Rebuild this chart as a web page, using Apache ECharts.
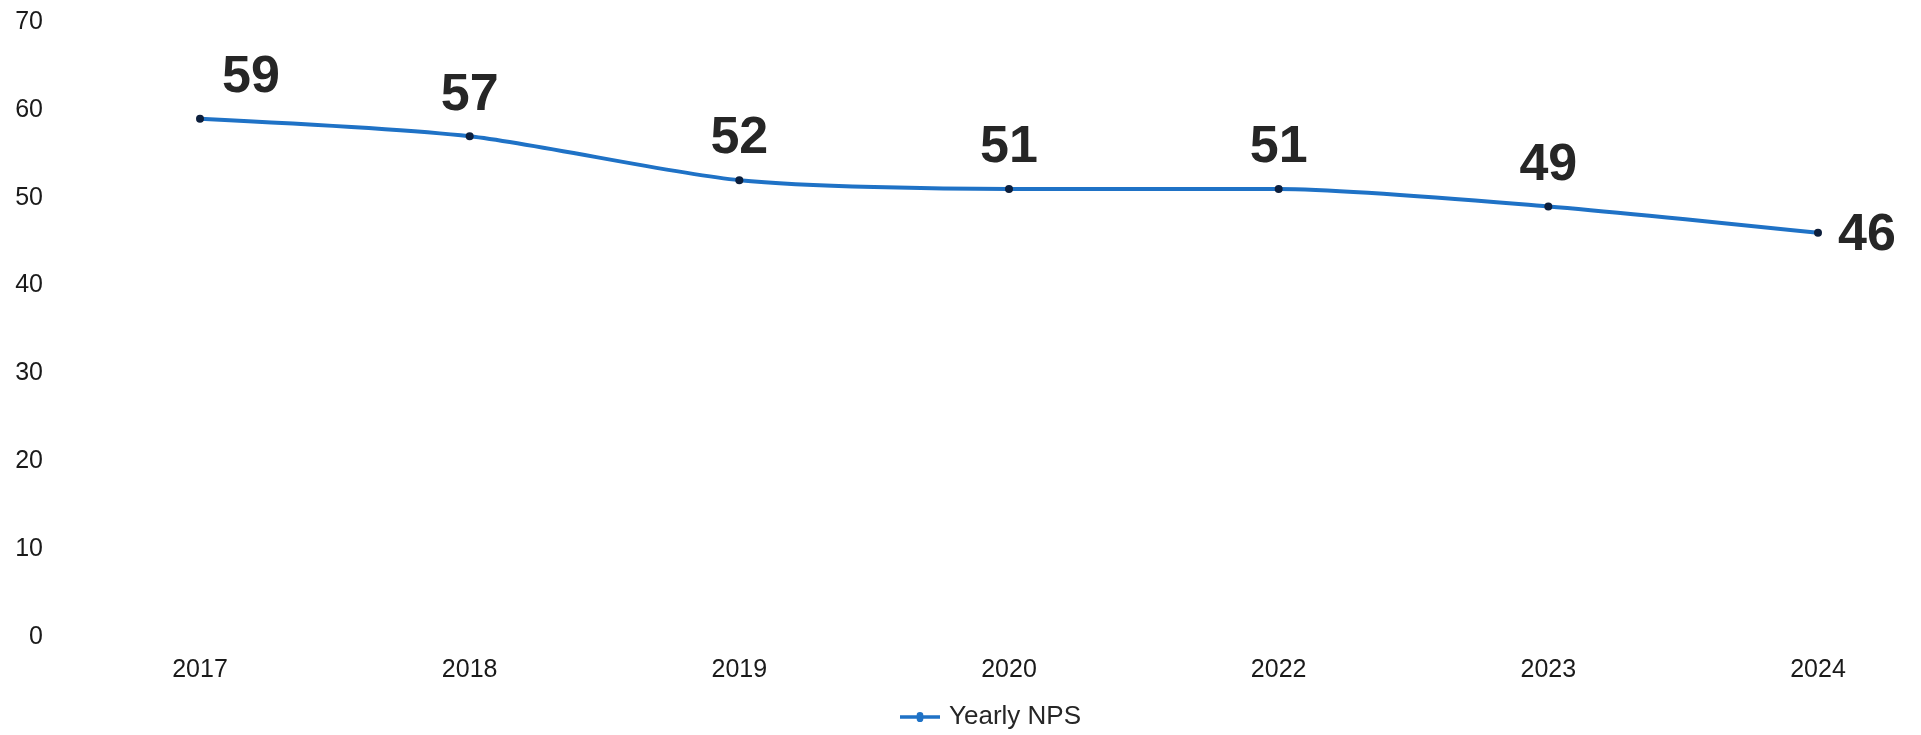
<!DOCTYPE html>
<html>
<head>
<meta charset="utf-8">
<script src="https://cdn.jsdelivr.net/npm/echarts@6/dist/echarts.min.js"></script>
<style>
  html, body { margin: 0; padding: 0; background: #ffffff; }
  #chart { width: 1921px; height: 735px; }
</style>
</head>
<body>
<div id="chart"></div>
<script>
// Yearly Net Promoter Score
const years = ['2017', '2018', '2019', '2020', '2022', '2023', '2024'];
const npsValues = [59, 57, 52, 51, 51, 49, 46];
const yTicks = { min: 0, max: 70, interval: 10 };
const seriesName = 'Yearly NPS';

const chart = echarts.init(document.getElementById('chart'));

const labelFont = {
  fontFamily: 'Liberation Sans, Arial, sans-serif',
  fontWeight: 'bold',
  fontSize: 52,
  color: '#262626'
};

const points = npsValues.map((v, i) => {
  const item = { value: v };
  if (i === 0) {
    item.label = { position: 'top', offset: [51, 0] };
  } else if (i === npsValues.length - 1) {
    item.label = { position: 'right', distance: 16, offset: [0, 3] };
  }
  return item;
});

chart.setOption({
  animation: false,
  backgroundColor: '#ffffff',
  grid: { left: 200, right: 103, top: 22, bottom: 98, containLabel: false },
  legend: {
    bottom: 0,
    left: 895,
    itemWidth: 48,
    itemHeight: 10,
    itemGap: 10,
    textStyle: { fontFamily: 'Liberation Sans, Arial, sans-serif', fontSize: 26, color: '#262626' },
    itemStyle: { color: '#1f72c6' },
    // line with a marker dot, both filled with the same winding
    data: [{ name: seriesName, icon: 'path://M0,3 L20,3 A4,4 0 0,1 28,3 L48,3 L48,7 L28,7 A4,4 0 0,1 20,7 L0,7 Z' }]
  },
  xAxis: {
    type: 'category',
    data: years,
    boundaryGap: false,
    axisLine: { show: false },
    axisTick: { show: false },
    axisLabel: {
      margin: 21,
      fontFamily: 'Liberation Sans, Arial, sans-serif',
      fontSize: 25,
      color: '#1a1a1a'
    }
  },
  yAxis: {
    type: 'value',
    min: yTicks.min,
    max: yTicks.max,
    interval: yTicks.interval,
    axisLine: { show: false },
    axisTick: { show: false },
    splitLine: { show: false },
    axisLabel: {
      margin: 157,
      fontFamily: 'Liberation Sans, Arial, sans-serif',
      fontSize: 25,
      color: '#1a1a1a'
    }
  },
  series: [{
    name: seriesName,
    type: 'line',
    data: points,
    smooth: 0.25,
    symbol: 'circle',
    symbolSize: 8,
    itemStyle: { color: '#0d1f3c', borderColor: '#0d1f3c', borderWidth: 0 },
    lineStyle: { color: '#1f72c6', width: 4 },
    label: Object.assign({ show: true, position: 'top', distance: 11 }, labelFont),
    z: 3
  }]
});
</script>
</body>
</html>
